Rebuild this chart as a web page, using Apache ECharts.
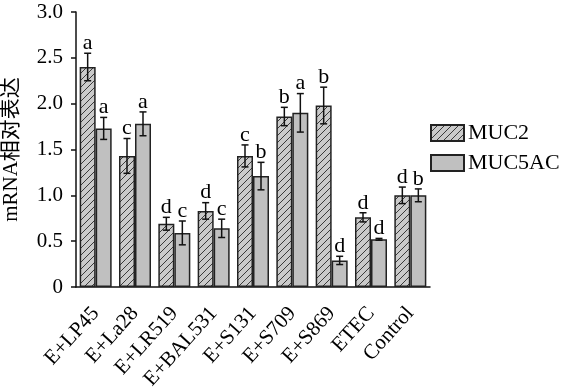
<!DOCTYPE html>
<html><head><meta charset="utf-8">
<script src="https://cdn.jsdelivr.net/npm/echarts@6/dist/echarts.min.js"></script>
<style>html,body{margin:0;padding:0;background:#fff}#c{width:561px;height:391px}</style>
</head><body><div id="c"></div>
<script>
var categories = ['E+LP45','E+La28','E+LR519','E+BAL531','E+S131','E+S709','E+S869','ETEC','Control'];
var muc2 = [2.40, 1.43, 0.69, 0.83, 1.43, 1.86, 1.98, 0.76, 1.00];
var muc2Err = [0.15, 0.19, 0.07, 0.09, 0.12, 0.10, 0.20, 0.05, 0.09];
var muc2Letters = ['a','c','d','d','c','b','b','d','d'];
var muc5ac = [1.73, 1.78, 0.59, 0.64, 1.21, 1.90, 0.29, 0.52, 1.00];
var muc5acErr = [0.12, 0.13, 0.13, 0.10, 0.15, 0.21, 0.045, 0.01, 0.07];
var muc5acLetters = ['a','a','c','c','b','a','d','d','b'];
var yTicks = [0, 0.5, 1.0, 1.5, 2.0, 2.5, 3.0];

var FONT = '"Liberation Serif","Times New Roman","Noto Sans CJK SC",serif';

function hatch() {
  var s = 7, cv = document.createElement('canvas');
  cv.width = s; cv.height = s;
  var ctx = cv.getContext('2d');
  ctx.fillStyle = '#cacaca'; ctx.fillRect(0, 0, s, s);
  ctx.strokeStyle = '#3a3a3a'; ctx.lineWidth = 1;
  ctx.beginPath();
  ctx.moveTo(-1, s + 1); ctx.lineTo(s + 1, -1);
  ctx.moveTo(-1, 1); ctx.lineTo(1, -1);
  ctx.moveTo(s - 1, s + 1); ctx.lineTo(s + 1, s - 1);
  ctx.stroke();
  return cv;
}

function errSeries(vals, errs, letters, offset) {
  var data = vals.map(function (v, i) { return [i, v, errs[i], letters[i]]; });
  return {
    type: 'custom', silent: true, z: 10,
    data: data,
    renderItem: function (params, api) {
      var i = api.value(0), v = api.value(1), e = api.value(2);
      var top = api.coord([i, v + e]);
      var bot = api.coord([i, v - e]);
      var x = top[0] + offset;
      var cap = 3.5;
      var st = { stroke: '#111', lineWidth: 1.5 };
      return {
        type: 'group',
        children: [
          { type: 'line', shape: { x1: x, y1: top[1], x2: x, y2: bot[1] }, style: st },
          { type: 'line', shape: { x1: x - cap, y1: top[1], x2: x + cap, y2: top[1] }, style: st },
          { type: 'line', shape: { x1: x - cap, y1: bot[1], x2: x + cap, y2: bot[1] }, style: st },
          { type: 'text', style: { text: data[params.dataIndex][3], x: x, y: top[1] + 1,
              align: 'center', verticalAlign: 'bottom', font: '22px ' + FONT, fill: '#000' } }
        ]
      };
    }
  };
}

var chart = echarts.init(document.getElementById('c'), null, { renderer: 'canvas' });
chart.setOption({
  animation: false,
  backgroundColor: '#fff',
  grid: { left: 76, right: 131, top: 12, bottom: 104, containLabel: false, outerBoundsMode: 'none' },
  legend: {
    orient: 'vertical', left: 430, top: 122, padding: 0, itemWidth: 33, itemHeight: 16, itemGap: 8,
    icon: 'rect', data: ['MUC2', 'MUC5AC'],
    textStyle: { fontFamily: FONT, fontSize: 22, color: '#000', padding: [0, 0, 0, -1] }
  },
  xAxis: {
    type: 'category', data: categories,
    axisLine: { lineStyle: { color: '#111', width: 1.5 } },
    axisTick: { show: false },
    axisLabel: { rotate: 48, fontFamily: FONT, fontSize: 21, color: '#000', margin: 23, interval: 0 }
  },
  yAxis: {
    type: 'value', min: 0, max: 3, interval: 0.5,
    name: 'mRNA相对表达', nameLocation: 'middle', nameRotate: 90, nameGap: 54,
    nameTextStyle: { fontFamily: FONT, fontSize: 21, color: '#000' },
    axisLine: { show: true, lineStyle: { color: '#111', width: 1.5 } },
    axisTick: { show: true, length: 5, lineStyle: { color: '#111', width: 1.5 } },
    splitLine: { show: false },
    axisLabel: { fontFamily: FONT, fontSize: 21, color: '#000', margin: 13,
      formatter: function (v) { return v === 0 ? '0' : v.toFixed(1); } }
  },
  series: [
    { name: 'MUC2', type: 'bar', data: muc2, barWidth: 16, barGap: '0%',
      itemStyle: { color: { image: hatch(), repeat: 'repeat' }, borderColor: '#222', borderWidth: 1.5 } },
    { name: 'MUC5AC', type: 'bar', data: muc5ac, barWidth: 16, barGap: '0%',
      itemStyle: { color: '#c0c0c0', borderColor: '#222', borderWidth: 1.5 } },
    errSeries(muc2, muc2Err, muc2Letters, -8),
    errSeries(muc5ac, muc5acErr, muc5acLetters, 8)
  ]
});
</script></body></html>
